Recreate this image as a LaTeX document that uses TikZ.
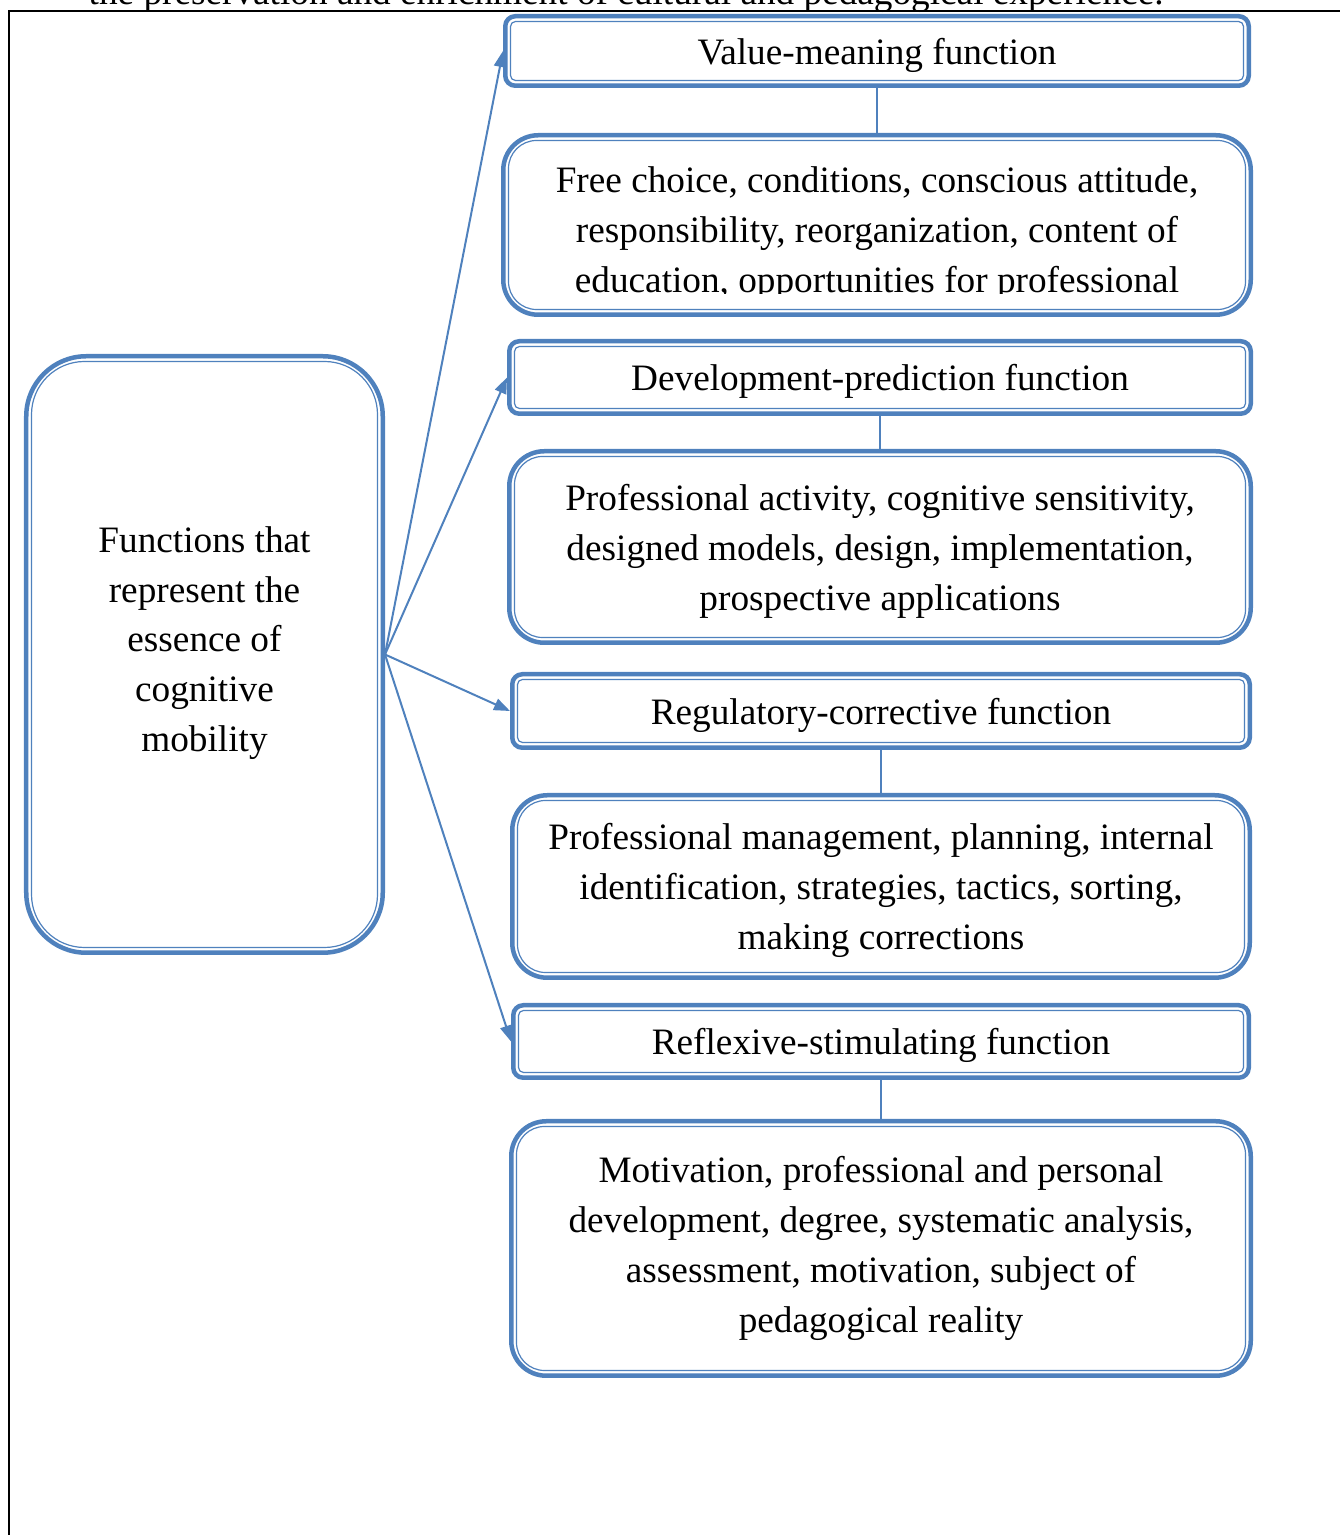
\documentclass[tikz,border=0pt]{standalone}
\usepackage{fontspec}
\setmainfont{Liberation Serif}
\usetikzlibrary{positioning,arrows.meta}
\definecolor{wordblue}{RGB}{79,129,189}

\tikzset{
  box/.style={draw=wordblue, line width=0.045cm, fill=white, align=center,
    inner sep=0pt, text depth=0pt, font=\fontsize{10.6}{14.2}\selectfont},
  func/.style={box, rounded corners=0.1cm},
  detail/.style={box, rounded corners=0.35cm},
  inner line/.style={draw=wordblue, line width=0.012cm},
  link/.style={draw=wordblue, line width=0.02cm},
  arrow/.style={link, -{Triangle[length=0.16cm, width=0.12cm]}},
}

\begin{document}
\begin{tikzpicture}[node distance=0.4cm]
  \useasboundingbox (0,0) rectangle (13.40,15.35);
  % page text and frame
  \node[anchor=base west, inner sep=0pt, font=\fontsize{10.6}{14.2}\selectfont] (caption) at (0.88,15.30)
    {the preservation and enrichment of cultural and pedagogical experience.};
  \draw[line width=0.02cm] (0.09,-0.5) -- (0.09,15.24) -- (14,15.24);

  \node[box, rounded corners=0.6cm, minimum width=3.565cm, minimum height=5.965cm] (left) at (2.045,8.805) {};
  \node[box, draw=none, fill=none] (lefttext) at ([yshift=0.155cm]left.center)
    {Functions that\\ represent the\\ essence of\\ cognitive\\ mobility};

  \node[func, minimum width=7.435cm, minimum height=0.695cm] (vm) at (8.77,14.84) {Value-meaning function};
  \node[detail, minimum width=7.475cm, minimum height=1.795cm] (vmd) [below=0.45cm of vm] {};
  \begin{scope}
    \clip (vmd.north west) rectangle ([yshift=12.41cm]vmd.east |- 0,0);
    \node[box, draw=none, fill=none] (vmdtext) at ([yshift=-0.045cm]vmd.center)
      {Free choice, conditions, conscious attitude,\\
       responsibility, reorganization, content of\\
       education, opportunities for professional};
  \end{scope}

  \node[func, minimum width=7.415cm, minimum height=0.725cm] (dp) at (8.80,11.575) {Development-prediction function};
  \node[detail, minimum width=7.415cm, minimum height=1.915cm] (dpd) [below=0.33cm of dp]
    {Professional activity, cognitive sensitivity,\\
     designed models, design, implementation,\\
     prospective applications};

  \node[func, minimum width=7.375cm, minimum height=0.735cm] (rc) at (8.81,8.24) {Regulatory-corrective function};
  \node[detail, minimum width=7.375cm, minimum height=1.825cm] (rcd) [below=0.43cm of rc]
    {Professional management, planning, internal\\
     identification, strategies, tactics, sorting,\\
     making corrections};

  \node[func, minimum width=7.355cm, minimum height=0.725cm] (rs) at (8.81,4.935) {Reflexive-stimulating function};
  \node[detail, minimum width=7.395cm, minimum height=2.545cm, text depth=2.3pt] (rsd) [below=0.39cm of rs]
    {Motivation, professional and personal\\
     development, degree, systematic analysis,\\
     assessment, motivation, subject of\\
     pedagogical reality};

  % thin inner border of every box
  \foreach \n/\r in {left/0.53, vm/0.05, vmd/0.28, dp/0.05, dpd/0.28, rc/0.05, rcd/0.28, rs/0.05, rsd/0.28}
    \draw[inner line, rounded corners=\r cm] ([shift={(0.075,-0.075)}]\n.north west)
      rectangle ([shift={(-0.075,0.075)}]\n.south east);

  \path[link]
  (vm) edge (vmd)
  (dp) edge (dpd)
  (rc) edge (rcd)
  (rs) edge (rsd);

  \foreach \t in {vm, dp, rc, rs}
    \draw[arrow] (left.east) -- (\t.west);
\end{tikzpicture}
\end{document}
